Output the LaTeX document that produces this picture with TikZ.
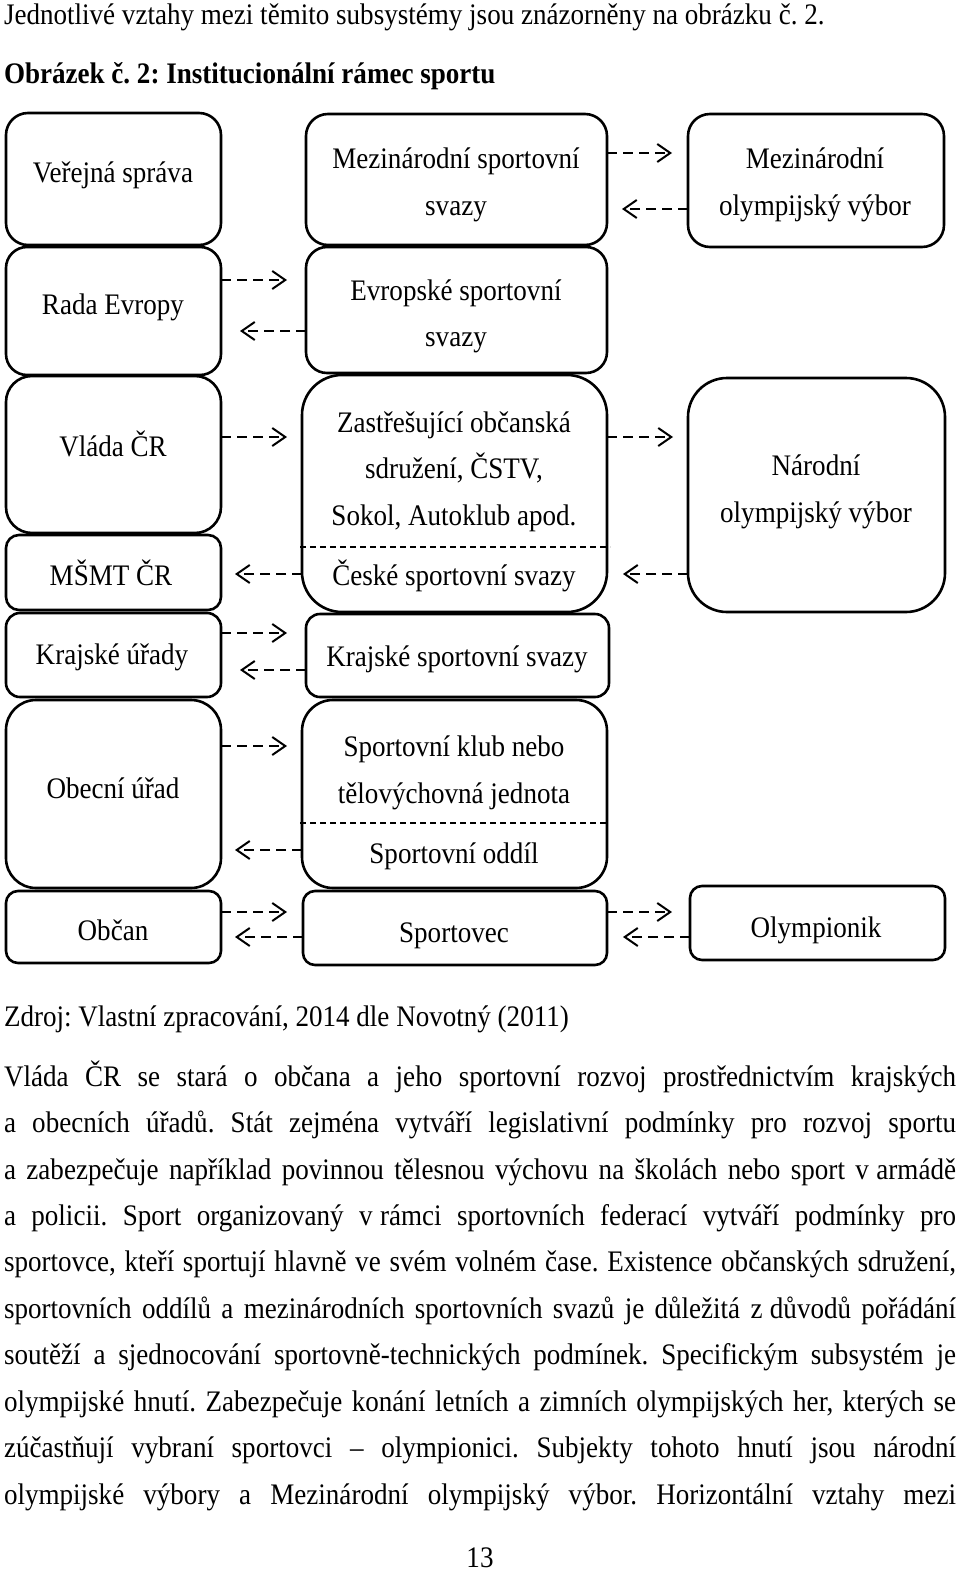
\documentclass[tikz,border=0pt]{standalone}
\usepackage{fontspec}
\setmainfont{Liberation Serif}[FakeStretch=0.908]
\frenchspacing
\usetikzlibrary{arrows.meta,calc,fit}
\tikzset{
  every node/.style={inner sep=0pt, outer sep=0pt, font=\fontsize{14.9pt}{23.25pt}\selectfont},
  bxs/.style={draw, line width=1.3pt, inner sep=0pt},
  darr/.style={line width=1pt, dash pattern=on 5pt off 3pt, -{Straight Barb[length=6.5pt,width=9pt,line width=1pt]}},
  divl/.style={line width=0.6pt, dash pattern=on 3pt off 2pt},
}
\newcommand\bx[6]{\node[bxs, fit={(#2,#3) (#4,#5)}, rounded corners=#6] (#1) {};}
\newcommand\tx[4]{\node[anchor=base] (#1) at (#2,#3+10) {#4};}
\newcommand\rarr[4]{\draw[darr] (#1.east |- 0,#3) -- ($(#2.west |- 0,#3)+(-#4,0)$);}
\newcommand\larr[4]{\draw[darr] (#2.west |- 0,#3) -- ($(#1.east |- 0,#3)+(#4,0)$);}
\newcommand\pline[3]{\node[anchor=base west] (#1) at (4,#2+5) {\hbox to 476pt{#3}};}
\begin{document}
\begin{tikzpicture}[x=0.5pt,y=-0.5pt]
\fill[white] (0,0) rectangle (960,1574);
\useasboundingbox (0,0) rectangle (960,1574);

% header
\node[anchor=base west] (h1) at (4,25) {Jednotlivé vztahy mezi těmito subsystémy jsou znázorněny na obrázku č. 2.};
\node[anchor=base west] (h2) at (4,83) {\bfseries Obrázek č. 2: Institucionální rámec sportu};

% boxes
\bx{ver}{6}{113}{221}{245}{11pt}
\bx{rada}{6}{247}{221}{375}{10.5pt}
\bx{vlada}{6}{376}{221}{533}{13pt}
\bx{msmt}{6}{535}{221}{610}{6.5pt}
\bx{kraj}{6}{613}{221}{697}{7pt}
\bx{obec}{6}{700}{221}{888}{15pt}
\bx{obcan}{6}{891}{221}{963}{6pt}
\bx{mss}{306}{114}{607}{245}{11pt}
\bx{ess}{306}{247}{607}{373}{10.5pt}
\bx{zast}{302}{375}{607}{612}{20pt}
\bx{kss}{306}{614}{609}{697}{7pt}
\bx{klub}{302}{700}{607}{888}{15.5pt}
\bx{spv}{303}{891}{607}{965}{6pt}
\bx{mov}{688}{114}{944}{247}{11pt}
\bx{nov}{688}{378}{945}{612}{19.5pt}
\bx{olymp}{690}{886}{945}{960}{6pt}

% dividers
\draw[divl] ($(zast.west |- 0,547)+(-2,0)$) -- ($(zast.east |- 0,547)+(3,0)$);
\draw[divl] ($(klub.west |- 0,823)+(-2,0)$) -- ($(klub.east |- 0,823)+(2,0)$);

% box texts
\tx{t1}{113}{172}{Veřejná správa}
\tx{t2}{456}{158}{Mezinárodní sportovní}
\tx{t3}{456}{205}{svazy}
\tx{t4}{815}{158}{Mezinárodní}
\tx{t5}{815}{205}{olympijský výbor}
\tx{t6}{113}{304}{Rada Evropy}
\tx{t7}{456}{290}{Evropské sportovní}
\tx{t8}{456}{336}{svazy}
\tx{t9}{113}{446}{Vláda ČR}
\tx{t10}{454}{422}{Zastřešující občanská}
\tx{t11}{454}{468}{sdružení, ČSTV,}
\tx{t12}{454}{515}{Sokol, Autoklub apod.}
\tx{t13}{816}{465}{Národní}
\tx{t14}{816}{512}{olympijský výbor}
\tx{t15}{111}{575}{MŠMT ČR}
\tx{t16}{454}{575}{České sportovní svazy}
\tx{t17}{112}{654}{Krajské úřady}
\tx{t18}{457}{656}{Krajské sportovní svazy}
\tx{t19}{113}{788}{Obecní úřad}
\tx{t20}{454}{746}{Sportovní klub nebo}
\tx{t21}{454}{793}{tělovýchovná jednota}
\tx{t22}{454}{853}{Sportovní oddíl}
\tx{t23}{113}{930}{Občan}
\tx{t24}{454}{932}{Sportovec}
\tx{t25}{816}{927}{Olympionik}

% arrows
\rarr{rada}{ess}{280}{19}
\larr{rada}{ess}{331}{19}
\rarr{mss}{mov}{153}{16}
\larr{mss}{mov}{209}{15}
\rarr{vlada}{zast}{437}{15}
\larr{msmt}{zast}{574}{14}
\rarr{zast}{nov}{437}{15}
\larr{zast}{nov}{574}{16}
\rarr{kraj}{kss}{633}{19}
\larr{kraj}{kss}{670}{19}
\rarr{obec}{klub}{746}{15}
\larr{obec}{klub}{850}{14}
\rarr{obcan}{spv}{912}{16}
\larr{obcan}{spv}{937}{14}
\rarr{spv}{olymp}{912}{18}
\larr{spv}{olymp}{937}{16}

% source
\node[anchor=base west] (src) at (4,1026) {Zdroj: Vlastní zpracování, 2014 dle Novotný (2011)};

% paragraph
\pline{p1}{1081}{Vláda ČR se stará o občana a jeho sportovní rozvoj prostřednictvím krajských}
\pline{p2}{1127}{a obecních úřadů. Stát zejména vytváří legislativní podmínky pro rozvoj sportu}
\pline{p3}{1174}{a zabezpečuje například povinnou tělesnou výchovu na školách nebo sport v\kern0.25em armádě}
\pline{p4}{1220}{a policii. Sport organizovaný v\kern0.25em rámci sportovních federací vytváří podmínky pro}
\pline{p5}{1266}{sportovce, kteří sportují hlavně ve svém volném čase. Existence občanských sdružení,}
\pline{p6}{1313}{sportovních oddílů a mezinárodních sportovních svazů je důležitá z\kern0.25em důvodů pořádání}
\pline{p7}{1359}{soutěží a sjednocování sportovně-technických podmínek. Specifickým subsystém je}
\pline{p8}{1406}{olympijské hnutí. Zabezpečuje konání letních a zimních olympijských her, kterých se}
\pline{p9}{1452}{zúčastňují vybraní sportovci – olympionici. Subjekty tohoto hnutí jsou národní}
\pline{p10}{1499}{olympijské výbory a Mezinárodní olympijský výbor. Horizontální vztahy mezi}

% page number
\node[anchor=base] (pg) at (480,1567) {13};
\end{tikzpicture}
\end{document}
